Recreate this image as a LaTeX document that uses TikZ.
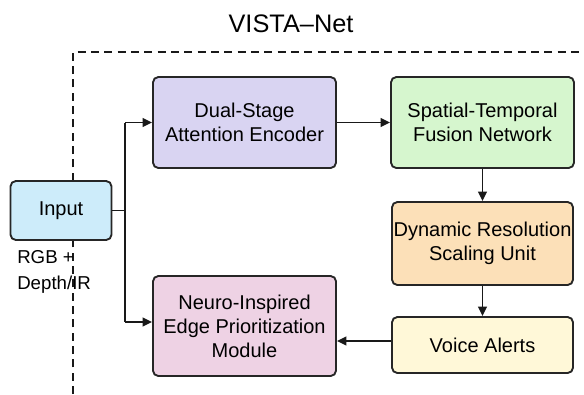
\documentclass[tikz,border=0pt]{standalone}
\usepackage{fontspec}
\setmainfont{Liberation Sans}
\usetikzlibrary{arrows.meta}
\definecolor{inpblue}{RGB}{205,236,250}
\definecolor{encviolet}{RGB}{217,212,242}
\definecolor{fusgreen}{RGB}{214,246,206}
\definecolor{scaorange}{RGB}{252,224,184}
\definecolor{voiyellow}{RGB}{255,248,216}
\definecolor{neupink}{RGB}{238,210,228}
\begin{document}
\begin{tikzpicture}%
	[x=0.75pt,
	y=-0.75pt,
	block/.style={draw=black!85, line width=1.4pt, rounded corners=4pt, align=center,
		inner sep=0pt, font=\fontsize{15}{18}\selectfont},
	link/.style={draw=black!90, line width=1.3pt, -{Triangle[length=7pt,width=6.5pt]}},
	wire/.style={draw=black!90, line width=1.3pt},
	frame/.style={draw=black!90, line width=1.4pt, dash pattern=on 6pt off 4pt}]
%
%% Page size
\useasboundingbox (0,0) rectangle (584,394);
%%
%% The system frame
%%
\draw[frame] (73,394) -- (73,52) -- (584,52);
\node[font=\fontsize{19}{22}\selectfont] (title) at (291,24) {VISTA--Net};
%%
%% Blocks
%%
\node[block, fill=inpblue, minimum width=75.75pt, minimum height=44.25pt] (inp) at (61,210.5) {Input};
\node[block, fill=encviolet, minimum width=137.25pt, minimum height=68.25pt] (enc) at (244.5,122.5) {Dual-Stage\\Attention Encoder};
\node[block, fill=fusgreen, minimum width=137.25pt, minimum height=68.25pt] (fus) at (482.5,122.5) {Spatial-Temporal\\Fusion Network};
\node[block, fill=scaorange, minimum width=135.75pt, minimum height=62.25pt] (sca) at (482.5,243.5) {Dynamic Resolution\\Scaling Unit};
\node[block, fill=voiyellow, minimum width=135.75pt, minimum height=42pt] (voi) at (482.5,345) {Voice Alerts};
\node[block, fill=neupink, minimum width=137.25pt, minimum height=75pt] (neu) at (244.5,326) {Neuro-Inspired\\Edge Prioritization\\Module};
\node[anchor=west, align=left, inner sep=0pt, font=\fontsize{14}{19}\selectfont] (src) at (17,272) {RGB +\\Depth/IR};
%%
%% Connectors
%%
\coordinate (split) at (125,210.5);
\coordinate (top) at (125,122.5);
\coordinate (bot) at (125,322);
\draw[wire] (inp.east) -- (split);
\draw[wire] (top) -- (bot);
\draw[link] (top) -- (enc.west);
\draw[link] (bot) -- (bot -| neu.west);
\draw[link] (enc.east) -- (fus.west);
\draw[link] (fus.south) -- (sca.north);
\draw[link] (sca.south) -- (voi.north);
\draw[link] (voi.west |- 0,341) -- (neu.east |- 0,341);
%%
\end{tikzpicture}
\end{document}
